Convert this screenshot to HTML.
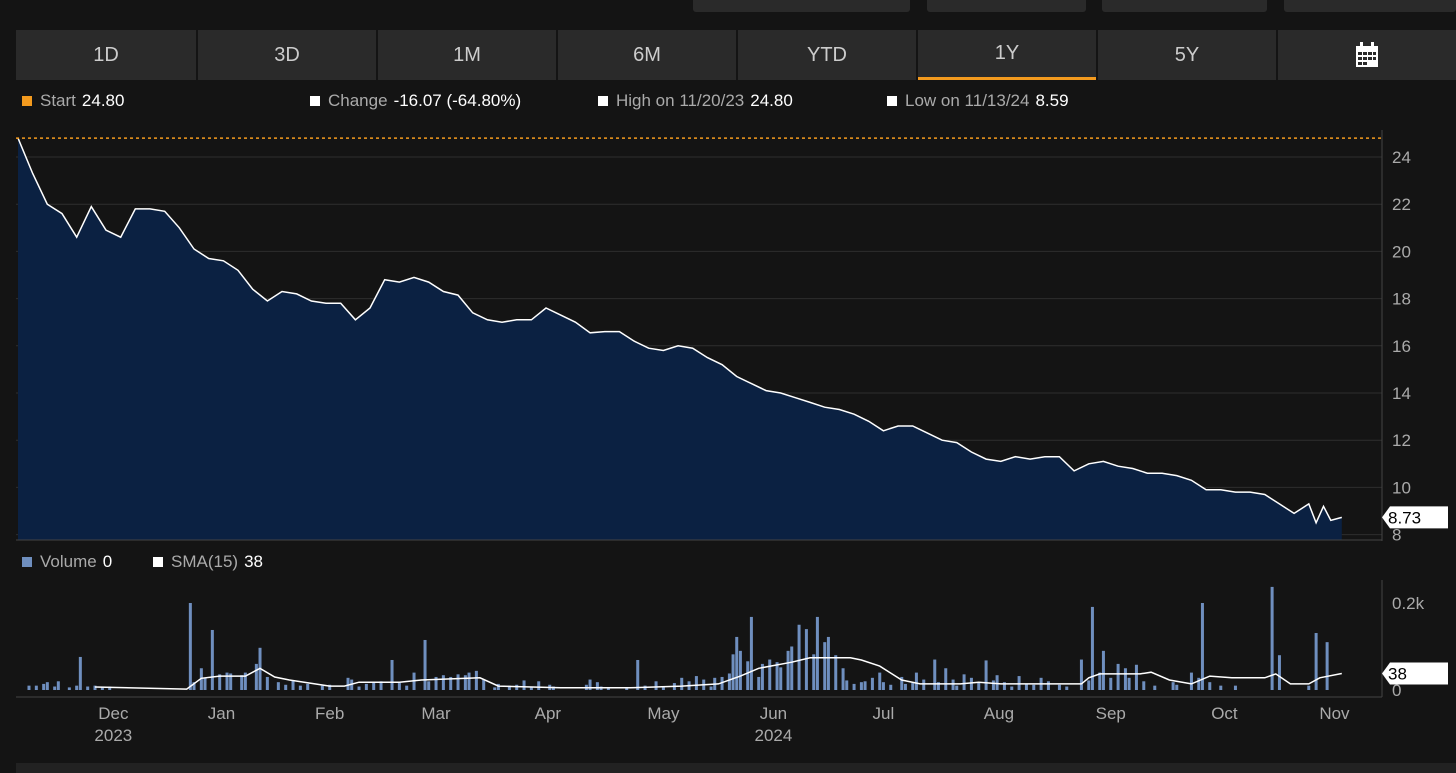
<!DOCTYPE html>
<html><head><meta charset="utf-8">
<style>
body{margin:0;background:#141414;width:1456px;height:773px;overflow:hidden;font-family:"Liberation Sans",sans-serif;}
.tab{position:absolute;top:30px;height:50px;background:#2a2a2a;color:#ccc;font-size:20px;display:flex;align-items:center;justify-content:center;}
.topbtn{position:absolute;top:0;height:12px;background:#2a2a2a;border-radius:0 0 3px 3px;}
.leg{position:absolute;font-size:17px;color:#aaa;white-space:nowrap;}
.leg b{font-weight:normal;color:#fff;margin-left:6px;}
.sq{display:inline-block;width:10px;height:10px;margin-right:8px;background:#fff;}
</style></head><body>
<div class="topbtn" style="left:693px;width:217px"></div>
<div class="topbtn" style="left:927px;width:159px"></div>
<div class="topbtn" style="left:1102px;width:165px"></div>
<div class="topbtn" style="left:1284px;width:172px"></div>
<div class="tab" style="left:16px;width:180px">1D</div>
<div class="tab" style="left:198px;width:178px">3D</div>
<div class="tab" style="left:378px;width:178px">1M</div>
<div class="tab" style="left:558px;width:178px">6M</div>
<div class="tab" style="left:738px;width:178px">YTD</div>
<div class="tab" style="left:918px;width:178px;border-bottom:3px solid #f39a1e;height:47px">1Y</div>
<div class="tab" style="left:1098px;width:178px">5Y</div>
<div class="tab" style="left:1278px;width:178px">
<svg width="24" height="26" viewBox="0 0 24 26"><rect x="1" y="4" width="22" height="21" fill="#fff"/><rect x="5" y="0" width="3" height="6" fill="#fff"/><rect x="16" y="0" width="3" height="6" fill="#fff"/><g fill="#2a2a2a"><rect x="3" y="10" width="4" height="3"/><rect x="8" y="10" width="4" height="3"/><rect x="13" y="10" width="4" height="3"/><rect x="18" y="10" width="3" height="3"/><rect x="3" y="15" width="4" height="3"/><rect x="8" y="15" width="4" height="3"/><rect x="13" y="15" width="4" height="3"/><rect x="18" y="15" width="3" height="3"/><rect x="3" y="20" width="4" height="3"/><rect x="8" y="20" width="4" height="3"/></g></svg></div>

<div class="leg" style="left:22px;top:91px"><span class="sq" style="background:#f39a1e"></span>Start<b>24.80</b></div>
<div class="leg" style="left:310px;top:91px"><span class="sq"></span>Change<b>-16.07 (-64.80%)</b></div>
<div class="leg" style="left:598px;top:91px"><span class="sq"></span>High on 11/20/23<b>24.80</b></div>
<div class="leg" style="left:887px;top:91px"><span class="sq"></span>Low on 11/13/24<b>8.59</b></div>
<div class="leg" style="left:22px;top:552px"><span class="sq" style="background:#6f8fbf"></span>Volume<b>0</b></div>
<div class="leg" style="left:153px;top:552px"><span class="sq"></span>SMA(15)<b>38</b></div>

<svg id="chart" width="1456" height="773" style="position:absolute;left:0;top:0"></svg>
<div style="position:absolute;left:16px;top:763px;width:1440px;height:10px;background:#222"></div>
<script>
const priceDays=[0,4,8,12,16,20,24,28,32,36,40,44,48,52,56,60,64,68,72,76,80,84,88,92,96,100,104,108,112,116,120,124,128,132,136,140,144,148,152,156,160,164,168,172,176,180,184,188,192,196,200,204,208,212,216,220,224,228,232,236,240,244,248,252,256,260,264,268,272,276,280,284,288,292,296,300,304,308,312,316,320,324,328,332,336,340,344,348,352,354,356,358,361];
const priceVals=[24.8,23.3,22.0,21.6,20.6,21.9,20.9,20.6,21.8,21.8,21.7,21.0,20.1,19.7,19.6,19.2,18.4,17.9,18.3,18.2,17.9,17.8,17.8,17.1,17.6,18.8,18.7,18.9,18.7,18.3,18.15,17.4,17.1,17.0,17.1,17.1,17.6,17.3,17.0,16.55,16.6,16.6,16.2,15.9,15.8,16.0,15.9,15.5,15.2,14.7,14.4,14.1,14.0,13.8,13.6,13.4,13.3,13.1,12.8,12.4,12.6,12.6,12.3,12.0,11.9,11.5,11.2,11.1,11.3,11.2,11.3,11.3,10.7,11.0,11.1,10.9,10.8,10.6,10.6,10.5,10.3,9.9,9.9,9.8,9.8,9.7,9.3,8.9,9.3,8.5,9.2,8.6,8.73];
const volDays=[3,5,7,8,10,11,14,16,17,19,21,23,25,47,48,50,51,53,55,57,58,61,62,65,66,68,71,73,75,77,79,83,85,90,91,93,95,97,99,102,104,106,108,111,112,114,116,118,120,122,123,125,127,130,131,134,136,138,140,142,145,146,155,156,158,159,161,166,169,171,174,176,179,181,183,185,187,189,190,192,194,195,196,197,199,200,202,203,205,207,208,210,211,213,215,217,218,220,221,223,225,226,228,230,231,233,235,236,238,241,242,244,245,247,250,251,253,255,256,258,260,262,264,266,267,269,271,273,275,277,279,281,284,286,290,292,293,295,296,298,300,302,303,305,307,310,315,316,320,322,323,325,328,332,342,344,352,354,357];
const volVals=[10,10,14,18,8,20,6,10,76,8,10,6,8,200,18,50,28,138,36,40,38,34,40,60,97,30,18,12,22,10,14,10,12,28,24,8,14,18,20,69,16,10,40,115,20,30,34,30,36,34,40,44,24,6,14,10,12,22,8,20,12,8,12,24,18,8,6,4,69,10,20,8,16,28,20,32,24,8,28,30,38,82,122,90,66,168,30,60,70,64,52,90,100,150,140,82,168,110,122,80,50,22,14,18,20,28,40,18,12,30,14,16,40,24,70,18,50,24,10,36,28,18,68,22,34,18,8,32,14,12,28,20,12,8,70,22,191,40,90,28,60,50,28,58,20,10,18,12,40,28,200,18,10,10,237,80,10,131,110];
const smaDays=[21,46,50,55,62,66,70,74,85,89,93,104,110,126,131,148,167,181,191,197,202,211,216,227,230,235,241,246,257,262,268,290,292,295,306,309,314,320,325,331,340,343,347,352,355,361];
const smaVals=[7,2,27,32,32,50,30,23,9,9,18,18,23,28,9,5,5,9,14,32,50,64,74,74,69,55,23,14,14,18,14,14,28,37,37,41,23,14,32,28,28,37,14,14,28,38];
const priceTicks=[8,10,12,14,16,18,20,22,24];
const monthLabels=["Dec","Jan","Feb","Mar","Apr","May","Jun","Jul","Aug","Sep","Oct","Nov"];
const monthDays=[26,55.5,85,114,144.5,176,206,236,267.5,298,329,359];
const yearLabels=["2023","2024"];
const yearDays=[26,206];
const startPrice=24.8, lastPrice=8.73, lastSma=38;

const svg=document.getElementById('chart');
const NS='http://www.w3.org/2000/svg';
const X=d=>18+d*3.667;
const Y=v=>157+(24-v)*23.6;
const VY=v=>690-v*0.435;
function mk(tag,attrs,parent){const e=document.createElementNS(NS,tag);for(const k in attrs)e.setAttribute(k,attrs[k]);(parent||svg).appendChild(e);return e;}

priceTicks.forEach(t=>{
  const g=mk('line',{x1:16,x2:1382,y1:Y(t),y2:Y(t),stroke:'#2e2e2e','stroke-width':1});
  
  
  const tx=mk('text',{x:1392,y:Y(t)+6,fill:'#aaa','font-size':17,'font-family':'Liberation Sans'});
  tx.textContent=t;
  
  
});
let d='M'+X(priceDays[0])+' 540';
priceDays.forEach((dd,i)=>{d+=' L'+X(dd).toFixed(1)+' '+Y(priceVals[i]).toFixed(1);});
d+=' L'+X(priceDays[priceDays.length-1])+' 540 Z';
const area=mk('path',{d:d,fill:'#0b2142'});


const line=mk('polyline',{points:priceDays.map((dd,i)=>X(dd).toFixed(1)+','+Y(priceVals[i]).toFixed(1)).join(' '),fill:'none',stroke:'#fff','stroke-width':1.5});


const sl=mk('line',{x1:16,x2:1382,y1:Y(startPrice),y2:Y(startPrice),stroke:'#f39a1e','stroke-width':1.5,'stroke-dasharray':'3,3'});


mk('line',{x1:1382,x2:1382,y1:130,y2:541,stroke:'#444'});
mk('line',{x1:16,x2:1382,y1:540,y2:540,stroke:'#444'});
mk('line',{x1:1382,x2:1382,y1:580,y2:697,stroke:'#444'});
mk('line',{x1:16,x2:1382,y1:697,y2:697,stroke:'#444'});

function tag(y,txt,name){
  const p=mk('path',{d:`M1382 ${y} L1390 ${y-11} L1448 ${y-11} L1448 ${y+11} L1390 ${y+11} Z`,fill:'#fff'});
  
  
  const t=mk('text',{x:1388,y:y+6,fill:'#000','font-size':17,'font-family':'Liberation Sans'});
  t.textContent=txt;
  
  
}
volDays.forEach((dd,i)=>{
  const b=mk('rect',{x:X(dd)-1.5,y:VY(volVals[i]),width:3,height:690-VY(volVals[i]),fill:'#6f8fbf'});
  
  
});
const sma=mk('polyline',{points:smaDays.map((dd,i)=>X(dd).toFixed(1)+','+VY(smaVals[i]).toFixed(1)).join(' '),fill:'none',stroke:'#fff','stroke-width':1.5});


[[0,'0'],[200,'0.2k']].forEach(([v,l])=>{
  const t=mk('text',{x:1392,y:VY(v)+6,fill:'#aaa','font-size':17,'font-family':'Liberation Sans'});
  t.textContent=l;
  
  
});
tag(Y(lastPrice),lastPrice.toFixed(2),'last-price-tag');
tag(VY(lastSma),String(lastSma),'last-sma-tag');
monthLabels.forEach((m,i)=>{
  const t=mk('text',{x:X(monthDays[i]),y:719,fill:'#aaa','font-size':17,'text-anchor':'middle','font-family':'Liberation Sans'});
  t.textContent=m;
  
  
});
yearLabels.forEach((m,i)=>{
  const t=mk('text',{x:X(yearDays[i]),y:741,fill:'#aaa','font-size':17,'text-anchor':'middle','font-family':'Liberation Sans'});
  t.textContent=m;
  
  
});
</script>
</body></html>
